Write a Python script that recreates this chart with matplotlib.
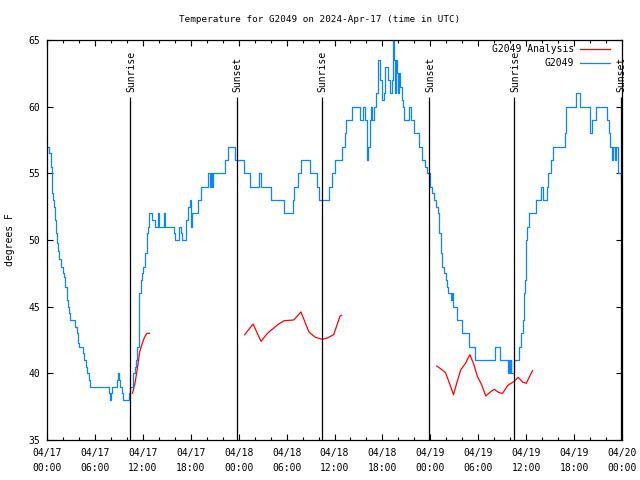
import matplotlib
matplotlib.use("Agg")
import matplotlib.pyplot as plt
from matplotlib.ticker import MultipleLocator, FixedLocator

plt.rcParams['font.family'] = ['DejaVu Sans Mono']
FS = 6.7
TFS = 7.0

# Observed temperature (hours since 04/17 00:00 UTC, degrees F) - change points
obs_hours = [0.05, 0.3, 0.46, 0.58, 0.67, 0.79, 0.88, 1.0, 1.15, 1.3, 1.42, 1.55, 1.72, 1.97, 2.1,
             2.26, 2.47, 2.68, 2.8, 2.93, 3.51, 3.72, 3.85, 3.95, 4.47, 4.68, 4.85, 4.98, 5.31, 5.4,
             7.75, 7.85, 8.05, 8.16, 8.74, 8.85, 9.05, 9.15, 9.37, 9.5, 10.25, 10.4, 10.83, 10.97,
             11.17, 11.3, 11.46, 11.54, 11.71, 11.95, 12.08, 12.33, 12.5, 12.67, 12.8, 13.2, 13.47,
             13.9, 14.05, 14.65, 14.8, 15.85, 16.06, 16.5, 16.75, 16.9, 17.45, 17.65, 17.86, 18.0,
             18.15, 18.9, 19.3, 20.2, 20.35, 20.5, 20.65, 20.8, 22.3, 22.67, 23.5, 24.7, 25.4, 26.55,
             26.85, 28.0, 29.7, 30.75, 30.9, 31.4, 31.85, 32.95, 33.8, 34.1, 35.35, 35.7, 36.1,
             37.0, 37.26, 37.5, 38.2, 39.2, 39.6, 39.8, 40.05, 40.25, 40.45, 40.6, 40.75, 40.9,
             41.2, 41.5, 41.7, 41.9, 42.15, 42.35, 42.75, 42.95, 43.15, 43.35, 43.45, 43.55, 43.65,
             43.8, 43.9, 44.05, 44.25, 44.45, 44.6, 44.75, 45.35, 45.55, 45.9, 46.6, 47.0, 47.3,
             47.6, 48.0, 48.2, 48.45, 48.7, 48.9, 49.1, 49.3, 49.45, 49.75, 49.95, 50.1, 50.25,
             50.6, 50.75, 50.85, 51.4, 51.95, 52.85, 53.65, 56.15, 56.7, 57.75, 57.85, 57.95, 58.05,
             58.15, 58.45, 59.05, 59.3, 59.55, 59.75, 59.9, 60.0, 60.15, 60.35, 61.2, 61.85, 62.1,
             62.55, 62.75, 63.05, 63.3, 64.85, 65.0, 66.2, 66.75, 67.95, 68.2, 68.7, 70.15, 70.35,
             70.55, 70.75, 70.9, 71.1, 71.25, 71.5, 71.9]
obs_temps = [57, 56.5, 55.5, 54.5, 53.5, 53, 52.5, 51.5, 50.5, 49.8, 49.2, 48.6, 48, 47.5, 47.2,
             46.5, 45.5, 45, 44.5, 44, 43.5, 43, 42.25, 42, 41.5, 41, 40.5, 40, 39.5, 39,
             38.5, 38, 38.5, 39, 39.5, 40, 39.5, 39, 38.5, 38, 38.5, 39, 40, 40.5,
             41, 42, 43, 46, 47, 47.5, 48, 49, 50.5, 51, 52, 51.5, 51,
             52, 51, 52, 51, 50.5, 50, 51, 50.5, 50, 51.5, 52.5, 53, 51,
             52, 53, 54, 55, 54, 55, 54, 55, 56, 57, 56, 55, 54, 55,
             54, 53, 52, 53, 54, 55, 56, 55, 54, 53, 54, 55, 56,
             57, 58, 59, 60, 59, 60, 59, 56, 57, 59, 60, 59, 60,
             61, 63.5, 62, 60.5, 61, 63, 62, 61, 62, 65, 63.5, 61, 63.5,
             62.5, 61, 62.5, 61.5, 60.5, 60, 59, 60, 59, 58, 57, 56, 55.5,
             55, 54, 53.5, 53, 52.5, 52, 50.5, 49, 48, 47.5, 47, 46.5, 46,
             45.5, 46, 45, 44, 43, 42, 41, 42, 41, 40, 41, 40, 41,
             40, 41, 42, 43, 44, 46, 47, 50, 51, 52, 53, 54, 53,
             54, 55, 56, 57, 58, 60, 61, 60, 58, 59, 60, 59, 58,
             57, 56, 57, 56, 57, 55, 54.5]

# Analysis series (three separate runs)
ana1_hours = [10.7, 11.0, 11.3, 11.6, 11.9, 12.2, 12.5, 12.84]
ana1_temps = [38.5, 39.2, 40.3, 41.6, 42.2, 42.7, 43.0, 43.0]
ana2_hours = [24.76, 25.8, 26.8, 27.6, 28.4, 29.0, 29.7, 30.9, 31.8, 32.8, 33.6, 34.5, 35.1, 35.9, 36.7, 36.9]
ana2_temps = [42.9, 43.7, 42.4, 43.0, 43.4, 43.7, 43.95, 44.0, 44.6, 43.1, 42.7, 42.55, 42.65, 42.9, 44.3, 44.35]
ana3_hours = [48.8, 49.4, 49.9, 50.4, 50.9, 51.3, 51.8, 52.4, 52.95, 53.4, 53.9, 54.4, 54.95, 55.6,
              56.0, 56.6, 57.05, 57.7, 58.1, 58.5, 59.0, 59.55, 60.0, 60.8]
ana3_temps = [40.55, 40.3, 40.05, 39.25, 38.4, 39.25, 40.25, 40.75, 41.4, 40.75, 39.75, 39.17, 38.3, 38.65,
              38.8, 38.55, 38.5, 39.1, 39.25, 39.4, 39.7, 39.35, 39.25, 40.2]

sun_hours = [10.45, 23.75, 34.42, 47.85, 58.5, 71.85]
sun_labels = ['Sunrise', 'Sunset', 'Sunrise', 'Sunset', 'Sunrise', 'Sunset']

tick_hours = list(range(0, 73, 6))
tick_labels = ['04/17\n00:00', '04/17\n06:00', '04/17\n12:00', '04/17\n18:00',
               '04/18\n00:00', '04/18\n06:00', '04/18\n12:00', '04/18\n18:00',
               '04/19\n00:00', '04/19\n06:00', '04/19\n12:00', '04/19\n18:00',
               '04/20\n00:00']

fig = plt.figure(figsize=(6.4, 4.8), dpi=100)
ax = fig.add_axes([47/640, 40/480, 575/640, 400/480])

RED = '#ff0000'
BLUE = '#0a84ff'

for i, (hx, tx) in enumerate([(ana1_hours, ana1_temps), (ana2_hours, ana2_temps), (ana3_hours, ana3_temps)]):
    ax.plot(hx, tx, color=RED, lw=0.9, label='G2049 Analysis' if i == 0 else None)
ax.plot(obs_hours, obs_temps, color=BLUE, lw=0.9, drawstyle='steps-post', label='G2049')

for h, lab in zip(sun_hours, sun_labels):
    ax.vlines(h, 35, 60.7, color='black', lw=0.9)
    ax.text(h + 0.1, 61.1, lab, rotation=90, ha='center', va='bottom', fontsize=TFS)

ax.set_xlim(0, 72)
ax.set_ylim(35, 65)
ax.xaxis.set_major_locator(FixedLocator(tick_hours))
ax.set_xticklabels(tick_labels, fontsize=TFS, linespacing=1.62)
ax.xaxis.set_minor_locator(MultipleLocator(2))
ax.yaxis.set_major_locator(MultipleLocator(5))
ax.tick_params(axis='both', which='both', direction='in', top=True, right=True, width=0.8)
ax.tick_params(axis='both', which='major', length=4)
ax.tick_params(axis='both', which='minor', length=2.5)
ax.tick_params(axis='x', which='major', pad=6)
ax.tick_params(axis='y', which='major', pad=5, labelsize=TFS)
for sp in ax.spines.values():
    sp.set_linewidth(0.9)

leg = ax.legend(loc='upper right', frameon=False, markerfirst=False, fontsize=TFS,
                handlelength=3.1, handletextpad=0.6, labelspacing=0.4,
                borderaxespad=0.0, borderpad=0.0,
                bbox_to_anchor=((610 - 47) / 575, 1 - 4.5 / 400))

fig.text(0.5, 1 - 20/480, 'Temperature for G2049 on 2024-Apr-17 (time in UTC)',
         ha='center', va='center', fontsize=FS)
fig.text(10/640, 0.5, 'degrees F', rotation=90, ha='center', va='center', fontsize=TFS)

fig.savefig('out.png', dpi=100)
